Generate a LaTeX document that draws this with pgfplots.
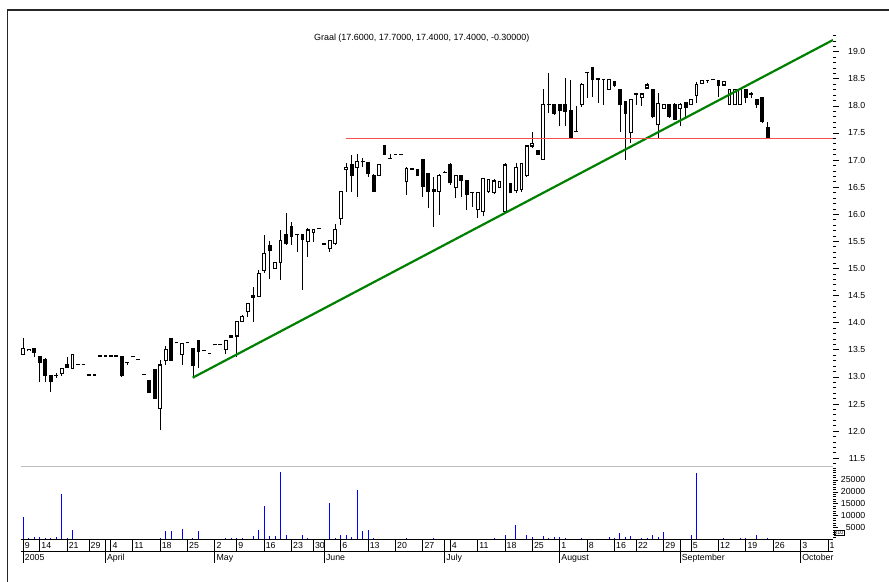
\documentclass[border=0pt]{standalone}
\usepackage{fontspec}
\setmainfont{Liberation Sans}
\usepackage{pgfplots}
\usepackage{pgfplotstable}
\pgfplotsset{compat=1.18}

\definecolor{trendgreen}{RGB}{0,128,0}
\definecolor{supportred}{RGB}{245,80,80}
\definecolor{volblue}{RGB}{0,0,255}

% daily candles: trading day index, open, high, low, close
\pgfplotstableread{
i o h l c
0 13.42 13.71 13.42 13.52
1 13.48 13.51 13.48 13.51
2 13.52 13.52 13.37 13.45
3 13.37 13.37 12.91 13.27
4 13.32 13.35 12.91 13.02
5 13.02 13.02 12.72 12.91
6 13.03 13.07 12.98 13.03
7 13.07 13.16 13.02 13.16
8 13.22 13.37 13.17 13.17
9 13.16 13.42 13.16 13.42
10 13.23 13.23 13.23 13.23
11 13.23 13.23 13.23 13.23
12 13.035 13.035 13.035 13.035
13 13.035 13.035 13.035 13.035
14 13.385 13.385 13.385 13.385
15 13.385 13.385 13.385 13.385
16 13.385 13.385 13.385 13.385
17 13.385 13.385 13.385 13.385
18 13.37 13.385 13.00 13.02
19 13.26 13.26 13.22 13.26
20 13.37 13.37 13.37 13.37
21 13.32 13.32 13.32 13.32
22 13.05 13.05 13.05 13.05
23 12.94 12.94 12.71 12.71
24 13.13 13.14 12.60 12.60
25 12.42 13.31 12.02 13.22
26 13.30 13.57 13.22 13.51
27 13.71 13.71 13.30 13.30
28 13.63 13.63 13.63 13.63
29 13.42 13.62 13.22 13.62
30 13.63 13.63 13.63 13.63
31 13.53 13.53 13.00 13.22
32 13.67 13.67 13.16 13.47
33 13.48 13.48 13.48 13.48
34 13.43 13.43 13.43 13.43
35 13.59 13.59 13.59 13.59
36 13.59 13.59 13.59 13.59
37 13.51 13.67 13.43 13.67
38 13.76 13.76 13.73 13.73
39 13.755 14.02 13.37 14.02
40 14.02 14.14 14.02 14.12
41 14.20 14.36 14.11 14.36
42 14.51 14.65 14.02 14.47
43 14.49 14.98 14.49 14.91
44 14.96 15.62 14.91 15.27
45 15.42 15.51 14.81 15.33
46 15.00 15.11 15.00 15.11
47 15.11 15.71 14.79 15.51
48 15.62 16.02 15.43 15.46
49 15.77 15.86 15.43 15.60
50 15.62 15.62 15.31 15.62
51 15.62 15.62 14.61 15.53
52 15.49 15.74 15.22 15.71
53 15.66 15.72 15.49 15.72
54 15.73 15.73 15.73 15.73
55 15.46 15.46 15.44 15.44
56 15.37 15.51 15.31 15.51
57 15.46 15.82 15.43 15.72
58 15.925 16.42 15.80 16.42
59 16.82 16.94 16.42 16.86
60 16.92 17.09 16.42 16.71
61 16.87 17.12 16.32 16.97
62 16.97 17.03 16.88 16.97
63 16.96 16.97 16.69 16.76
64 16.72 16.75 16.41 16.42
65 16.71 16.92 16.71 16.92
66 17.27 17.28 17.11 17.11
67 17.03 17.11 17.03 17.03
68 17.11 17.11 17.11 17.11
69 17.11 17.11 17.11 17.11
70 16.60 16.88 16.36 16.85
71 16.835 16.835 16.835 16.835
72 16.82 16.82 16.71 16.71
73 17.01 17.01 16.32 16.51
74 16.755 16.76 16.11 16.42
75 16.46 16.69 15.77 16.42
76 16.42 16.75 15.99 16.71
77 16.77 16.79 16.77 16.77
78 16.92 16.94 16.54 16.58
79 16.50 16.71 16.30 16.71
80 16.71 16.72 16.32 16.62
81 16.62 16.63 16.08 16.375
82 16.40 16.40 16.14 16.40
83 16.08 16.40 15.925 16.40
84 16.05 16.66 15.96 16.66
85 16.42 16.66 16.39 16.645
86 16.40 16.66 16.38 16.615
87 16.50 16.60 16.48 16.60
88 16.05 16.94 16.02 16.91
89 16.56 16.56 16.39 16.40
90 16.435 16.94 16.39 16.865
91 16.46 16.95 16.42 16.94
92 16.71 17.26 16.69 17.26
93 17.26 17.52 17.22 17.31
94 17.17 17.17 17.11 17.11
95 17.015 18.31 17.00 18.02
96 18.03 18.60 17.86 18.03
97 18.02 18.02 17.83 17.86
98 18.02 18.02 17.62 17.91
99 18.02 18.51 17.62 17.89
100 17.91 18.48 17.40 17.41
101 17.53 17.99 17.53 17.53
102 18.02 18.42 17.98 18.40
103 18.61 18.61 18.14 18.61
104 18.71 18.71 18.17 18.48
105 18.51 18.51 18.05 18.48
106 18.48 18.48 18.02 18.48
107 18.305 18.49 18.30 18.49
108 18.45 18.45 18.35 18.385
109 18.31 18.32 17.52 18.02
110 18.08 18.08 17.00 17.86
111 17.51 18.11 17.31 18.11
112 18.22 18.22 18.02 18.22
113 18.16 18.22 17.99 18.22
114 18.33 18.42 18.33 18.385
115 18.31 18.31 17.77 17.80
116 17.65 18.24 17.40 18.05
117 17.96 18.02 17.96 18.02
118 18.02 18.02 17.78 17.80
119 18.02 18.05 17.75 17.75
120 17.96 18.05 17.62 18.02
121 18.06 18.06 17.80 17.97
122 18.02 18.11 18.02 18.11
123 18.20 18.45 18.05 18.40
124 18.42 18.465 18.42 18.465
125 18.465 18.465 18.43 18.465
126 18.48 18.48 18.48 18.48
127 18.465 18.465 18.17 18.37
128 18.385 18.45 18.385 18.45
129 18.02 18.305 18.02 18.305
130 18.02 18.31 18.02 18.31
131 18.02 18.31 18.02 18.31
132 18.31 18.31 18.05 18.16
133 18.22 18.26 18.14 18.22
134 18.11 18.12 17.96 18.02
135 18.16 18.17 17.68 17.71
136 17.60 17.70 17.40 17.40
}\candles

% volume (x10)
\pgfplotstableread{
i v
0 9350
1 800
2 900
3 900
4 700
5 700
6 1200
7 19200
8 700
9 4000
10 400
11 400
12 300
13 400
14 300
15 300
16 300
17 300
18 400
19 400
20 300
21 300
22 300
23 400
24 400
25 800
26 3700
27 3500
28 300
29 4400
30 300
31 800
32 3600
33 300
34 300
35 300
36 300
37 500
38 800
39 700
40 800
41 300
42 1500
43 4000
44 14200
45 1400
46 1400
47 28200
48 2100
49 300
50 400
51 1800
52 700
53 300
54 300
55 300
56 15300
57 800
58 1800
59 2100
60 1100
61 20900
62 3600
63 3900
64 800
65 300
66 300
67 300
68 300
69 300
70 500
71 300
72 300
73 300
74 300
75 500
76 300
77 300
78 400
79 300
80 400
81 300
82 400
83 300
84 400
85 400
86 500
87 300
88 1900
89 300
90 6100
91 300
92 2100
93 1200
94 300
95 1500
96 500
97 900
98 1100
99 600
100 400
101 400
102 800
103 400
104 300
105 400
106 400
107 1100
108 800
109 2800
110 1100
111 1500
112 400
113 600
114 800
115 1800
116 1200
117 3000
118 400
119 300
120 400
121 400
122 1800
123 28100
124 300
125 300
126 300
127 400
128 500
129 300
130 300
131 500
132 500
133 400
134 1900
135 400
136 500
}\volumes

\pgfplotsset{
  panel/.style={
    anchor=south west, scale only axis, width=812.5bp,
    xmin=-0.51, xmax=147.92,
  },
  lbl/.style={font=\fontsize{8.8}{10}\selectfont},
}

\begin{document}
\begin{tikzpicture}
\useasboundingbox (0,0) rectangle (889bp,582bp);
\draw[line width=1.6bp, black!85] (7.5bp,0) -- (7.5bp,572bp) -- (889bp,572bp);

% price panel
\begin{axis}[panel,
  at={(20.5bp,115.3bp)}, height=433.7bp,
  ymin=11.343, ymax=19.345,
  axis x line=none, axis y line*=right,
  y axis line style={draw=none},
  xtick=\empty,
  ytick={11.5,12,...,19},
  minor ytick={11.4,11.5,...,19.31},
  tick align=outside,
  major tick length=6bp, minor tick length=3bp,
  tick style={black, line width=0.7bp},
  yticklabel={\pgfmathprintnumber[fixed, fixed zerofill, precision=1, assume math mode=true]{\tick}},
  yticklabel style={lbl, anchor=east, inner sep=0pt, xshift=26.5bp},
  title={Graal (17.6000, 17.7000, 17.4000, 17.4000, -0.30000)},
  title style={at={(0.5,1)}, anchor=north, yshift=-3bp, xshift=-5bp,
    font=\fontsize{9}{10}\selectfont},
]
% wicks
\addplot[draw=none, mark=none, error bars/.cd, y dir=plus, y explicit,
  error mark=none, error bar style={draw=black, line width=0.9bp}]
  table[x=i, y=l, y error plus expr={\thisrow{h}-\thisrow{l}}] {\candles};
% bodies
\addplot[draw=none, mark=none, error bars/.cd, y dir=plus, y explicit,
  error mark=none, error bar style={draw=black, line width=3.8bp}]
  table[x=i, y expr={min(\thisrow{o},\thisrow{c})-0.01},
    y error plus expr={abs(\thisrow{c}-\thisrow{o})+0.02}] {\candles};
% hollow inside of rising days
\addplot[draw=none, mark=none, error bars/.cd, y dir=plus, y explicit,
  error mark=none, error bar style={draw=white, line width=1.8bp}]
  table[x=i, y expr={\thisrow{o}+0.01},
    y error plus expr={max(\thisrow{c}-\thisrow{o}-0.02,0)}] {\candles};
% trend line and support
\addplot[trendgreen, line width=2.2bp] coordinates {(30.95,12.985) (147.92,19.216)};
\addplot[supportred, line width=1.3bp] coordinates {(58.95,17.4) (147.92,17.4)};
\end{axis}

% volume panel
\begin{axis}[panel,
  at={(20.5bp,42.4bp)}, height=72.9bp,
  ymin=0, ymax=30570,
  axis x line*=top, axis y line*=right,
  x axis line style={-, draw=black!25, line width=0.8bp},
  y axis line style={draw=none},
  xtick=\empty,
  ytick={5000,10000,...,25000},
  minor ytick={1000,2000,...,30000},
  scaled y ticks=false,
  tick align=outside,
  major tick length=5bp, minor tick length=2.5bp,
  tick style={black, line width=0.7bp},
  yticklabel={\pgfmathprintnumber[fixed, 1000 sep={}, assume math mode=true]{\tick}},
  yticklabel style={lbl, anchor=east, inner sep=0pt, xshift=27.5bp},
]
\addplot[ycomb, volblue, line width=1bp] table[x=i, y=v] {\volumes};
\end{axis}
\node[draw=black, line width=0.6bp, inner sep=0.8bp, anchor=north west,
  font=\fontsize{5.5}{6}\selectfont] at (833.5bp,52bp) {x10};

% day row of the date scale
\begin{axis}[panel,
  at={(20.5bp,30.7bp)}, height=11.7bp,
  ymin=0, ymax=1,
  separate axis lines,
  x axis line style={-, black, line width=0.8bp},
  y axis line style={draw=none},
  ytick=\empty,
  xtick={0,3,8,12,15,16,20,25,30,35,39,44,49,53,55,58,63,68,73,77,78,83,88,93,98,103,108,112,117,120,122,127,132,137,142,147},
  xticklabels={9,14,21,29,,4,11,18,25,2,9,16,23,30,,6,13,20,27,,4,11,18,25,1,8,16,22,29,,5,12,19,26,3,1},
  major tick length=0pt,
  xmajorgrids, grid style={black, line width=0.8bp},
  xticklabel style={lbl, anchor=base west, inner sep=0pt, xshift=1.5bp, yshift=3bp},
]
\end{axis}

% month row of the date scale
\begin{axis}[panel,
  at={(20.5bp,19.4bp)}, height=11.3bp,
  ymin=0, ymax=1,
  axis line style={draw=none},
  ytick=\empty,
  xtick={0,15,35,55,77,98,120,142},
  xticklabels={2005,April,May,June,July,August,September,October},
  major tick length=0pt,
  xmajorgrids, grid style={black, line width=0.8bp},
  xticklabel style={lbl, anchor=base west, inner sep=0pt, xshift=1.5bp, yshift=2bp},
]
\end{axis}
\end{tikzpicture}
\end{document}
